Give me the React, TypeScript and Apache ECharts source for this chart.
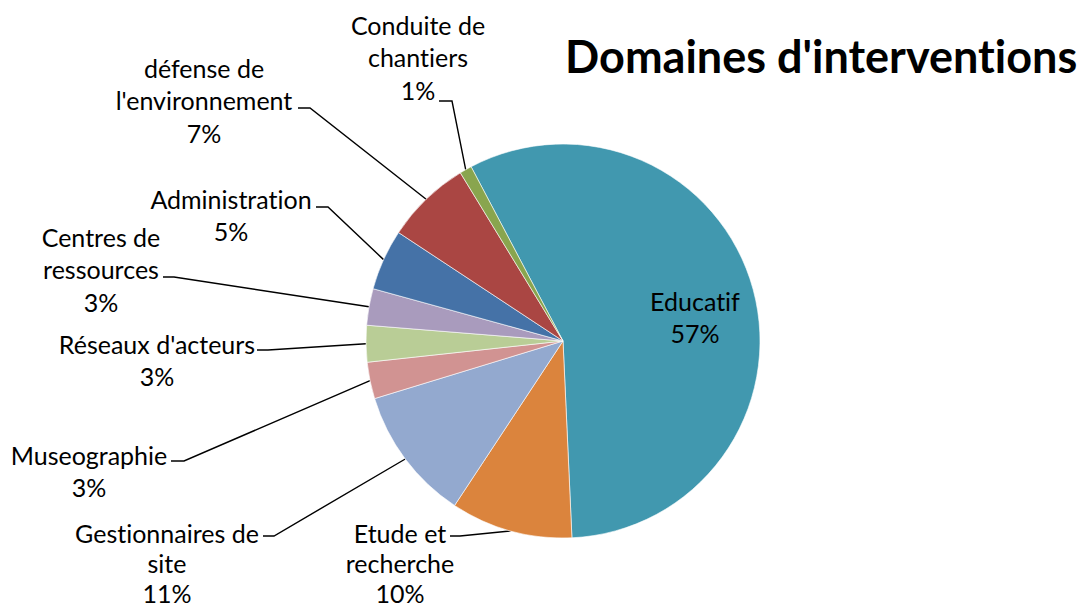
import React, { useEffect, useRef } from "react";
import * as echarts from "echarts";

// ---- data ----
const CATEGORIES = [
  "Educatif",
  "Etude et recherche",
  "Gestionnaires de site",
  "Museographie",
  "Réseaux d'acteurs",
  "Centres de ressources",
  "Administration",
  "défense de l'environnement",
  "Conduite de chantiers",
];
const VALUES = [57, 10, 11, 3, 3, 3, 5, 7, 1];
const LABEL_LINES = [
  ["Educatif"],
  ["Etude et", "recherche"],
  ["Gestionnaires de", "site"],
  ["Museographie"],
  ["Réseaux d'acteurs"],
  ["Centres de", "ressources"],
  ["Administration"],
  ["défense de", "l'environnement"],
  ["Conduite de", "chantiers"],
];
const COLORS = [
  "#4198AF",
  "#DB843D",
  "#93A9CF",
  "#D19392",
  "#B9CD96",
  "#A99BBD",
  "#4572A7",
  "#AA4643",
  "#89A54E",
];
const TITLE = "Domaines d'interventions";

// ---- label placement (style) ----
// x,y: label block centre; lh: line height; hook: [x where line meets text, y, horizontal segment length]
const LABEL_PLACE: { x: number; y: number; lh: number; hook?: [number, number, number] }[] = [
  { x: 695, y: 317, lh: 32.5 },
  { x: 400, y: 563, lh: 30, hook: [450, 536, 10] },
  { x: 167, y: 563, lh: 30, hook: [263, 536, 11] },
  { x: 89, y: 471, lh: 32.5, hook: [171, 461, 13] },
  { x: 157, y: 360, lh: 32.5, hook: [257, 350, 11] },
  { x: 101, y: 269, lh: 32.5, hook: [163, 277, 11] },
  { x: 231, y: 215, lh: 32.5, hook: [316, 207, 12] },
  { x: 204, y: 100, lh: 32.5, hook: [298, 108, 12] },
  { x: 418, y: 57, lh: 32.5, hook: [439, 101, 13] },
];

const FONT = "Lato, 'Open Sans', sans-serif";
const NO_LIGATURES =
  "svg text, svg tspan { font-variant-ligatures: none !important; font-feature-settings: 'liga' 0, 'clig' 0, 'dlig' 0 !important; }";

export default function App() {
  const ref = useRef<HTMLDivElement>(null);
  useEffect(() => {
    if (!ref.current) return;
    const chart = echarts.init(ref.current, null, { renderer: "svg" });
    const data = CATEGORIES.map((name, i) => {
      const item: any = {
        name,
        value: VALUES[i],
        itemStyle: { color: COLORS[i] },
        label: { lineHeight: LABEL_PLACE[i].lh },
      };
      if (i === 0) {
        item.label.position = "inside";
        item.labelLine = { show: false };
      }
      return item;
    });
    chart.setOption({
      animation: false,
      backgroundColor: "#ffffff",
      graphic: [
        {
          type: "text",
          right: 4,
          top: 33,
          style: {
            text: TITLE,
            font: `bold 45px ${FONT}`,
            fill: "#000",
          },
        },
      ],
      series: [
        {
          type: "pie",
          center: [563, 341],
          radius: 197,
          startAngle: 117.8,
          clockwise: true,
          avoidLabelOverlap: false,
          itemStyle: { borderColor: "#ffffff", borderWidth: 0.6 },
          emphasis: { disabled: true },
          label: {
            show: true,
            position: "outside",
            color: "#000",
            fontFamily: FONT,
            fontSize: 25,
            lineHeight: 32.5,
            align: "center",
            formatter: (p: any) =>
              [...LABEL_LINES[p.dataIndex], `${Math.round(p.percent)}%`].join("\n"),
          },
          labelLine: {
            show: true,
            length: 10,
            length2: 10,
            smooth: false,
            lineStyle: { color: "#000", width: 1.4 },
          },
          labelLayout: (p: any) => {
            const L = LABEL_PLACE[p.dataIndex];
            const res: any = {
              x: L.x,
              y: L.y,
              align: "center",
              verticalAlign: "middle",
            };
            if (L.hook && p.labelLinePoints) {
              const start = p.labelLinePoints[0];
              res.labelLinePoints = [
                [start[0], start[1]],
                [L.hook[0] + L.hook[2], L.hook[1]],
                [L.hook[0], L.hook[1]],
              ];
            }
            return res;
          },
          data,
        },
      ],
    });
    return () => chart.dispose();
  }, []);
  return (
    <>
      <style>{NO_LIGATURES}</style>
      <div
        ref={ref}
        style={{ position: "fixed", left: 0, top: 0, width: 1082, height: 609 }}
      />
    </>
  );
}
